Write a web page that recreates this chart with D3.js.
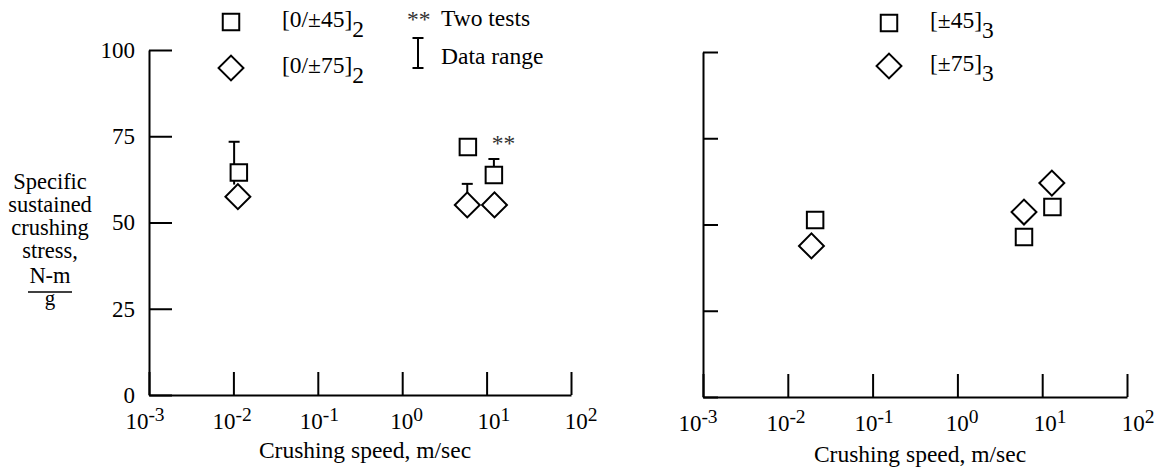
<!DOCTYPE html>
<html>
<head>
<meta charset="utf-8">
<script src="https://cdn.jsdelivr.net/npm/d3@7"></script>
<style>
  body { margin: 0; background: #fff; }
  svg { display: block; }
  svg text { font-family: "Liberation Serif", "DejaVu Serif", "Times New Roman", serif; }
</style>
</head>
<body>
<div id="chart"></div>
<script>
// axis values
const speedTicks = [1e-3, 1e-2, 1e-1, 1e0, 1e1, 1e2];
const speedExponents = ["-3", "-2", "-1", "0", "1", "2"];
const stressTicks = [0, 25, 50, 75, 100];

// left panel: [0/±45]2 and [0/±75]2
const leftSquares = [
  { speed: 0.0116, stress: 64.5 },
  { speed: 6.0, stress: 71.9 },
  { speed: 12.2, stress: 63.8 }
];
const leftDiamonds = [
  { speed: 0.0113, stress: 57.5 },
  { speed: 5.9, stress: 55.1 },
  { speed: 12.4, stress: 55.1 }
];
const leftRanges = [
  { speed: 0.0102, low: 61.0, high: 73.4 },
  { speed: 5.9, low: 55.1, high: 61.2 },
  { speed: 12.2, low: 63.8, high: 68.4 }
];
const leftTwoTests = [{ speed: 8.3, stress: 72.5 }];

// right panel: [±45]3 and [±75]3
const rightSquares = [
  { speed: 0.021, stress: 51.3 },
  { speed: 6.1, stress: 46.4 },
  { speed: 13.2, stress: 55.1 }
];
const rightDiamonds = [
  { speed: 0.019, stress: 43.8 },
  { speed: 6.1, stress: 53.6 },
  { speed: 13.0, stress: 62.0 }
];

const yTitleLines = ["Specific", "sustained", "crushing", "stress,"];
const yUnitTop = "N-m", yUnitBottom = "g";
const xTitle = "Crushing speed, m/sec";

const serif = "'Liberation Serif', 'DejaVu Serif', 'Times New Roman', serif";
const fs = 23.5;

let width = 1156, height = 471;

let svg = d3.select("#chart")
  .append("svg")
  .attr("width", width)
  .attr("height", height)
  .attr("font-family", serif)
  .attr("viewBox", [0, 0, width, height].join(" "));

function marker(g, data, x, y, kind) {
  let sym = kind === "square"
    ? d3.symbol(d3.symbolSquare, 272)
    : d3.symbol(d3.symbolSquare, 310);
  g.selectAll("path." + kind)
    .data(data)
    .join("path")
      .attr("class", kind)
      .attr("d", sym)
      .attr("transform", d => `translate(${x(d.speed)},${y(d.stress)})` + (kind === "diamond" ? " rotate(45)" : ""))
      .attr("fill", "#fff")
      .attr("stroke", "#000")
      .attr("stroke-width", 2);
}

function legendEntry(g, kind, lx, ly, tx, main, sub) {
  let sym = kind === "square"
    ? d3.symbol(d3.symbolSquare, 272)
    : d3.symbol(d3.symbolSquare, 310);
  g.append("path")
    .attr("d", sym)
    .attr("transform", `translate(${lx},${ly})` + (kind === "diamond" ? " rotate(45)" : ""))
    .attr("fill", "none")
    .attr("stroke", "#000")
    .attr("stroke-width", 2);
  let t = g.append("text")
    .attr("x", tx)
    .attr("y", ly + 5)
    .attr("font-size", fs);
  t.append("tspan").text(main);
  t.append("tspan").attr("dy", 10).text(sub);
}

function panel(cfg) {
  let x = d3.scaleLog().domain([1e-3, 1e2]).range(cfg.xRange);
  let y = d3.scaleLinear().domain([0, 100]).range(cfg.yRange);
  // labels in the original sit on a slightly wider grid than the ticks
  let xl = d3.scaleLog().domain([1e-3, 1e2]).range(cfg.labelRange);
  let g = svg.append("g");

  // y axis, ticks pointing inward
  let yAxis = g.append("g")
    .attr("transform", `translate(${cfg.xRange[0]},0)`)
    .call(d3.axisLeft(y)
      .tickValues(stressTicks)
      .tickSize(-cfg.yTick)
      .tickSizeOuter(0)
      .tickPadding(14)
      .tickFormat(cfg.yLabels ? d3.format("d") : ""));

  // x axis
  let xAxis = g.append("g")
    .attr("transform", `translate(0,${cfg.yRange[0]})`)
    .call(d3.axisBottom(x)
      .tickValues(speedTicks)
      .tickSize(-23)
      .tickSizeOuter(0)
      .tickFormat(""));

  [yAxis, xAxis].forEach(a => {
    a.attr("font-family", serif).attr("font-size", 23);
    a.selectAll(".domain, line").attr("stroke", "#000").attr("stroke-width", 2);
    a.selectAll("text").attr("fill", "#000");
  });

  // power-of-ten labels
  let lab = g.selectAll("text.xlab")
    .data(speedTicks)
    .join("text")
      .attr("class", "xlab")
      .attr("x", d => xl(d))
      .attr("y", cfg.xLabelY)
      .attr("text-anchor", "middle")
      .attr("font-size", 23);
  lab.append("tspan").text("10");
  lab.append("tspan")
    .attr("dy", -8)
    .attr("font-size", 19.5)
    .text((d, i) => speedExponents[i]);

  g.append("text")
    .attr("x", (cfg.xRange[0] + cfg.xRange[1]) / 2 + 5)
    .attr("y", cfg.titleY)
    .attr("text-anchor", "middle")
    .attr("font-size", fs)
    .text(xTitle);

  return { g, x, y };
}

// ---- left panel
let L = panel({ xRange: [149, 571], labelRange: [145, 581], yRange: [395, 50], yTick: 23, yLabels: true, xLabelY: 429, titleY: 458 });

L.g.selectAll("g.range")
  .data(leftRanges)
  .join("g")
    .attr("class", "range")
    .each(function (d) {
      let s = d3.select(this), cx = L.x(d.speed);
      s.append("line").attr("x1", cx).attr("x2", cx).attr("y1", L.y(d.low)).attr("y2", L.y(d.high));
      s.append("line").attr("x1", cx - 5.5).attr("x2", cx + 5.5).attr("y1", L.y(d.high)).attr("y2", L.y(d.high));
    })
    .attr("stroke", "#000")
    .attr("stroke-width", 2);

marker(L.g, leftSquares, L.x, L.y, "square");
marker(L.g, leftDiamonds, L.x, L.y, "diamond");

L.g.selectAll("text.two")
  .data(leftTwoTests)
  .join("text")
    .attr("class", "two")
    .attr("x", d => L.x(d.speed) + 12)
    .attr("y", d => L.y(d.stress) + 6)
    .attr("font-size", fs)
    .attr("fill", "#333")
    .text("**");

legendEntry(L.g, "square", 231, 22, 282, "[0/±45]", "2");
legendEntry(L.g, "diamond", 231, 68, 282, "[0/±75]", "2");

L.g.append("text").attr("x", 407).attr("y", 27).attr("font-size", fs).attr("fill", "#333").text("**");
L.g.append("text").attr("x", 441).attr("y", 26).attr("font-size", fs).text("Two tests");
L.g.append("line").attr("x1", 418).attr("x2", 418).attr("y1", 38).attr("y2", 68).attr("stroke", "#000").attr("stroke-width", 2);
L.g.append("line").attr("x1", 412.5).attr("x2", 423.5).attr("y1", 38).attr("y2", 38).attr("stroke", "#000").attr("stroke-width", 2);
L.g.append("line").attr("x1", 412.5).attr("x2", 423.5).attr("y1", 68).attr("y2", 68).attr("stroke", "#000").attr("stroke-width", 2);
L.g.append("text").attr("x", 441).attr("y", 64).attr("font-size", fs).text("Data range");

// y title, stacked lines with a fraction for the unit
let yt = svg.append("g").attr("font-size", 22.5).attr("text-anchor", "middle");
yt.selectAll("text.line")
  .data(yTitleLines)
  .join("text")
    .attr("class", "line")
    .attr("x", 50)
    .attr("y", (d, i) => 189 + i * 23)
    .text(d => d);
yt.append("text").attr("x", 50).attr("y", 283).text(yUnitTop);
yt.append("line").attr("x1", 28).attr("x2", 72).attr("y1", 292).attr("y2", 292).attr("stroke", "#000").attr("stroke-width", 1.5);
yt.append("text").attr("x", 50).attr("y", 305).attr("font-size", 21).text(yUnitBottom);

// ---- right panel
let R = panel({ xRange: [703, 1127], labelRange: [698, 1138], yRange: [397, 52], yTick: 15, yLabels: false, xLabelY: 431, titleY: 462 });

marker(R.g, rightSquares, R.x, R.y, "square");
marker(R.g, rightDiamonds, R.x, R.y, "diamond");

legendEntry(R.g, "square", 889, 23, 930, "[±45]", "3");
legendEntry(R.g, "diamond", 889, 66, 930, "[±75]", "3");
</script>
</body>
</html>
